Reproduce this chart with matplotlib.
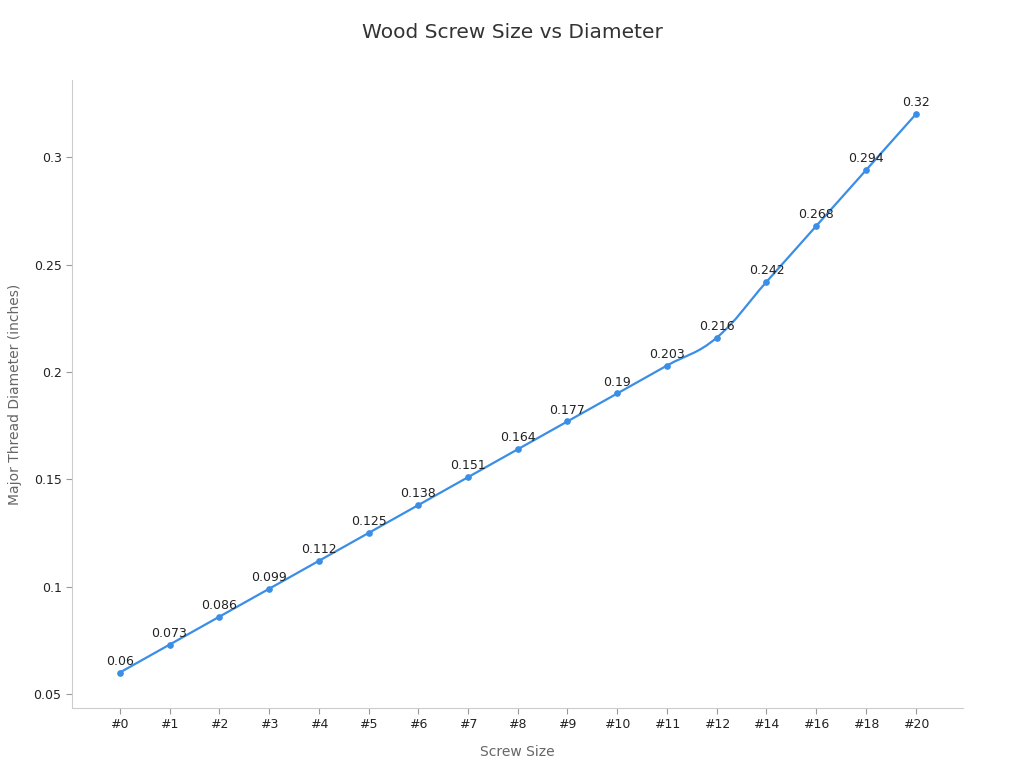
import numpy as np
import matplotlib.pyplot as plt
from matplotlib.path import Path
from matplotlib.patches import PathPatch

# ---------- DATA ----------
sizes = ["#0", "#1", "#2", "#3", "#4", "#5", "#6", "#7", "#8", "#9",
         "#10", "#11", "#12", "#14", "#16", "#18", "#20"]
diameters = [0.06, 0.073, 0.086, 0.099, 0.112, 0.125, 0.138, 0.151, 0.164,
             0.177, 0.19, 0.203, 0.216, 0.242, 0.268, 0.294, 0.32]

line_color = "#3a8ee6"
grey_text = "#666666"

fig = plt.figure(figsize=(10.24, 7.68), dpi=100)
ax = fig.add_axes([72 / 1024, 60 / 768, 891 / 1024, 628 / 768])

x = np.arange(len(sizes))
y = np.array(diameters)

# smooth line drawn as cubic bezier path through the points
tension = 0.2
verts = [(x[0], y[0])]
codes = [Path.MOVETO]
n = len(x)
for i in range(n - 1):
    p0 = np.array([x[max(i - 1, 0)], y[max(i - 1, 0)]])
    p1 = np.array([x[i], y[i]])
    p2 = np.array([x[i + 1], y[i + 1]])
    p3 = np.array([x[min(i + 2, n - 1)], y[min(i + 2, n - 1)]])
    c1 = p1 + (p2 - p0) * tension
    c2 = p2 - (p3 - p1) * tension
    verts += [tuple(c1), tuple(c2), tuple(p2)]
    codes += [Path.CURVE4] * 3
ax.add_patch(PathPatch(Path(verts, codes), facecolor="none",
                       edgecolor=line_color, lw=1.6, zorder=2))

ax.plot(x, y, "o", color=line_color, markersize=3.8, zorder=3)

for xi, yi in zip(x, y):
    ax.annotate(f"{yi:g}", (xi, yi), xytext=(0, 3.5), textcoords="offset points",
                ha="center", va="bottom", fontsize=9, color="#222222")

ax.set_xlim(-0.96, n - 1 + 0.95)
ax.set_ylim(0.0435, 0.336)
ax.set_xticks(x)
ax.set_xticklabels(sizes)
ax.set_yticks([0.05, 0.1, 0.15, 0.2, 0.25, 0.3])
ax.set_yticklabels(["0.05", "0.1", "0.15", "0.2", "0.25", "0.3"])

for s in ["top", "right"]:
    ax.spines[s].set_visible(False)
for s in ["left", "bottom"]:
    ax.spines[s].set_color("#cccccc")
ax.tick_params(axis="both", colors="#999999", labelcolor="#222222",
               labelsize=9, length=4)

ax.set_xlabel("Screw Size", fontsize=10, color=grey_text, labelpad=10)
ax.set_ylabel("Major Thread Diameter (inches)", fontsize=10, color=grey_text,
              labelpad=8)
fig.suptitle("Wood Screw Size vs Diameter", fontsize=14.5, color="#333333",
             y=0.97)

fig.savefig("out.png", dpi=100)
